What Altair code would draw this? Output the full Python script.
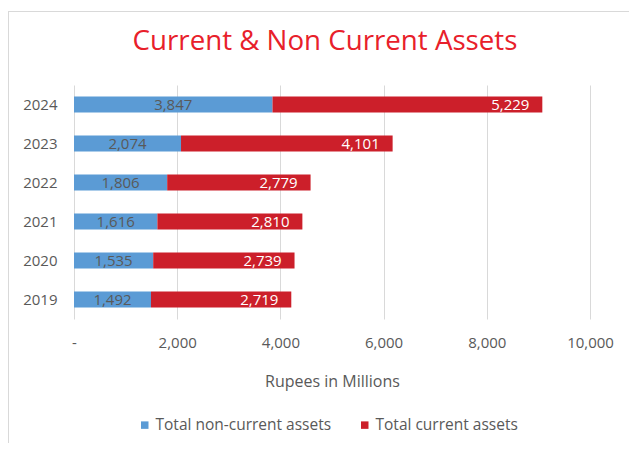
import altair as alt
import pandas as pd

years = ["2019", "2020", "2021", "2022", "2023", "2024"]
non_current = [1492, 1535, 1616, 1806, 2074, 3847]
current = [2719, 2739, 2810, 2779, 4101, 5229]
series = ["Total non-current assets", "Total current assets"]
colors = ["#5B9BD5", "#CC1F2A"]
x_ticks = [0, 2000, 4000, 6000, 8000, 10000]

rows = []
for y, nc, c in zip(years, non_current, current):
    rows.append({"year": y, "series": series[0], "value": nc, "ord": 0, "start": 0, "end": nc})
    rows.append({"year": y, "series": series[1], "value": c, "ord": 1, "start": nc, "end": nc + c})
df = pd.DataFrame(rows)

FONT = "Open Sans"
GRAY = "#595959"

y_enc = alt.Y(
    "year:N",
    sort=years[::-1],
    title=None,
    scale=alt.Scale(paddingInner=0.59, paddingOuter=0.295),
    axis=alt.Axis(domain=False, ticks=False, labelPadding=17, labelFontSize=15,
                  labelColor=GRAY, labelFont=FONT),
)

x_scale = alt.Scale(domain=[0, 10000], nice=False)

bars = alt.Chart(df).mark_bar().encode(
    x=alt.X(
        "start:Q",
        scale=x_scale,
        title="Rupees in Millions",
        axis=alt.Axis(
            values=x_ticks,
            labelExpr="datum.value == 0 ? '-' : format(datum.value, ',')",
            labelFlush=False, labelOverlap=False,
            domain=False, ticks=False, grid=True, gridColor="#D9D9D9", gridWidth=1,
            labelPadding=16, labelFontSize=15, labelColor=GRAY, labelFont=FONT,
            titlePadding=23, titleFontSize=16, titleColor=GRAY, titleFont=FONT,
            titleFontWeight="normal",
        ),
    ),
    x2="end:Q",
    y=y_enc,
    color=alt.Color(
        "series:N",
        scale=alt.Scale(domain=series, range=colors),
        legend=alt.Legend(
            title=None, orient="none", direction="horizontal",
            legendX=63, legendY=332,
            symbolType="square", symbolSize=56, symbolStrokeWidth=0,
            labelFontSize=15.5, labelColor=GRAY, labelFont=FONT, labelLimit=400,
            labelOffset=3, columnPadding=25,
        ),
    ),
)

labels = alt.Chart(df).transform_calculate(
    lx="datum.ord == 0 ? datum.value / 2 : datum.end - 620",
    txt="format(datum.value, ',')",
).mark_text(fontSize=15, font=FONT, align="center", baseline="middle").encode(
    x=alt.X("lx:Q", scale=x_scale),
    y=alt.Y("year:N", sort=years[::-1]),
    text="txt:N",
    color=alt.when(alt.datum.ord == 0).then(alt.value(GRAY)).otherwise(alt.value("white")),
)

frame_left = alt.Chart(df).mark_rule(color="#D9D9D9", strokeWidth=1).encode(
    x=alt.value(-65.5), y=alt.value(-74), y2=alt.value(360)
)
frame_top = alt.Chart(df).mark_rule(color="#D9D9D9", strokeWidth=1).encode(
    x=alt.value(-65.5), x2=alt.value(560), y=alt.value(-73.5)
)

chart = alt.layer(frame_left, frame_top, bars, labels).properties(
    width=516,
    height=234,
    autosize=alt.AutoSizeParams(type="none"),
    padding={"left": 66, "top": 77, "right": 39, "bottom": 124},
    title=alt.Title(
        "Current & Non Current Assets",
        fontSize=27.7, font=FONT, color="#E8202A", fontWeight="normal",
        anchor="middle", dx=-7, offset=0, dy=67, baseline="alphabetic",
    ),
).configure_view(stroke=None)

chart.save("out.html", embed_options={"renderer": "svg", "actions": False})
